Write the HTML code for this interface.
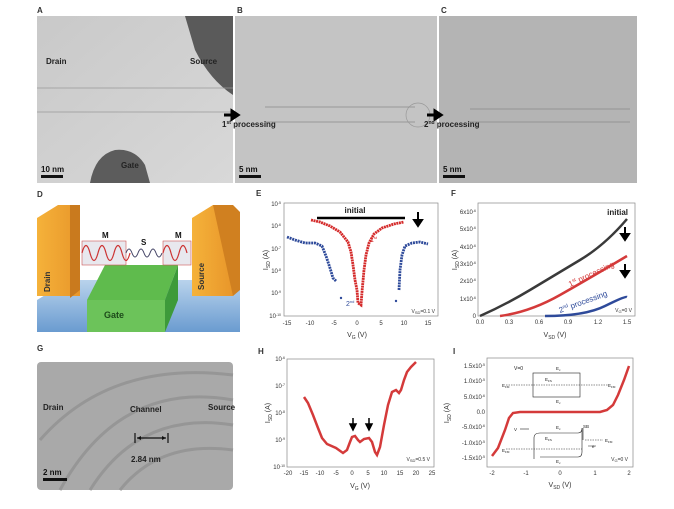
<!DOCTYPE html>
<html><head><meta charset="utf-8"><style>
html,body{margin:0;padding:0;background:#fff;width:674px;height:509px;overflow:hidden}
svg{display:block;font-family:"Liberation Sans",sans-serif}
.t{font-size:6px;fill:#333}
.b{font-weight:bold}
</style></head><body>
<svg width="674" height="509" viewBox="0 0 674 509">
<defs>
<linearGradient id="ga" x1="0" y1="0" x2="1" y2="1"><stop offset="0" stop-color="#c9c9c9"/><stop offset="1" stop-color="#d8d8d8"/></linearGradient>
<linearGradient id="gor" x1="0" y1="0" x2="1" y2="0"><stop offset="0" stop-color="#f5b23a"/><stop offset="1" stop-color="#e8962a"/></linearGradient>
<linearGradient id="gbl" x1="0" y1="0" x2="0" y2="1"><stop offset="0" stop-color="#b9d3ec"/><stop offset="1" stop-color="#6a9bd0"/></linearGradient>
</defs>
<text x="37" y="13" font-size="8" class="b" fill="#333">A</text>
<rect x="37" y="16" width="196" height="167" fill="url(#ga)"/>
<path d="M185 16 L233 16 L233 95 Q210 80 195 50 Z" fill="#5a5a5a"/>
<path d="M90 183 Q95 155 115 150 Q135 148 145 165 L150 183 Z" fill="#5c5c5c"/>
<line x1="37" y1="88" x2="233" y2="88" stroke="#999" stroke-width="0.8"/>
<line x1="37" y1="112" x2="233" y2="112" stroke="#999" stroke-width="0.8"/>
<text x="46" y="64" font-size="8" class="b" fill="#222">Drain</text>
<text x="190" y="64" font-size="8" class="b" fill="#222">Source</text>
<text x="121" y="168" font-size="8" class="b" fill="#222">Gate</text>
<text x="41" y="172" font-size="8" class="b" fill="#111">10 nm</text>
<rect x="41" y="175" width="22" height="3" fill="#111"/>
<text x="237" y="13" font-size="8" class="b" fill="#333">B</text>
<rect x="235" y="16" width="202" height="167" fill="#c4c4c4"/>
<line x1="265" y1="107" x2="415" y2="107" stroke="#888" stroke-width="0.8"/>
<line x1="265" y1="122" x2="415" y2="122" stroke="#888" stroke-width="0.8"/>
<circle cx="418" cy="115" r="12" fill="none" stroke="#999" stroke-width="0.7"/>
<path d="M224 115 H236 M232 111 L238 115 L232 119 Z" stroke="#000" stroke-width="3" fill="#000"/>
<text x="222" y="127" font-size="8" class="b" fill="#222">1<tspan font-size="5" dy="-3">st</tspan><tspan dy="3"> processing</tspan></text>
<text x="239" y="172" font-size="8" class="b" fill="#111">5 nm</text>
<rect x="239" y="175" width="22" height="3" fill="#111"/>
<text x="441" y="13" font-size="8" class="b" fill="#333">C</text>
<rect x="439" y="16" width="198" height="167" fill="#b4b4b4"/>
<line x1="470" y1="109" x2="630" y2="109" stroke="#888" stroke-width="0.7"/>
<line x1="470" y1="122" x2="630" y2="122" stroke="#888" stroke-width="0.7"/>
<path d="M427 115 H439 M435 111 L441 115 L435 119 Z" stroke="#000" stroke-width="3" fill="#000"/>
<text x="424" y="127" font-size="8" class="b" fill="#222">2<tspan font-size="5" dy="-3">nd</tspan><tspan dy="3"> processing</tspan></text>
<text x="443" y="172" font-size="8" class="b" fill="#111">5 nm</text>
<rect x="443" y="175" width="22" height="3" fill="#111"/>

<text x="37" y="197" font-size="8" class="b" fill="#333">D</text>
<polygon points="37,300 70,280 240,280 240,332 37,332" fill="url(#gbl)"/>
<polygon points="37,218 58,205 80,205 80,296 37,296" fill="url(#gor)"/>
<polygon points="70,205 80,205 80,290 70,298" fill="#c97a1e"/>
<polygon points="192,218 213,205 233,205 233,296 192,296" fill="url(#gor)"/>
<polygon points="213,205 233,205 240,212 240,290 233,296" fill="#d08020"/>
<polygon points="87,300 105,265 178,265 165,300" fill="#5fbb4d"/>
<rect x="87" y="300" width="78" height="32" fill="#6cc35a"/>
<polygon points="165,300 178,265 178,300 165,332" fill="#3d9a3a"/>
<rect x="82" y="241" width="44" height="24" fill="#e8e8ee" stroke="#c55" stroke-width="0.6"/>
<rect x="163" y="241" width="28" height="24" fill="#e8e8ee" stroke="#c55" stroke-width="0.6"/>
<path d="M82 253 Q86 238 90 253 T98 253 T106 253 T114 253 T122 253 T130 253 M163 253 Q167 238 171 253 T179 253 T187 253" stroke="#c33" fill="none" stroke-width="1.2"/>
<path d="M126 253 q3 -8 6 0 t6 0 t6 0 t6 0 t6 0 t6 0" stroke="#446" fill="none" stroke-width="1"/>
<text x="50" y="292" font-size="8" class="b" fill="#333" transform="rotate(-90 50 292)">Drain</text>
<text x="204" y="290" font-size="8" class="b" fill="#333" transform="rotate(-90 204 290)">Source</text>
<text x="102" y="238" font-size="8" class="b" fill="#111">M</text>
<text x="141" y="245" font-size="8" class="b" fill="#111">S</text>
<text x="175" y="238" font-size="8" class="b" fill="#111">M</text>
<text x="104" y="318" font-size="9" class="b" fill="#1d4a1a">Gate</text>

<text x="37" y="351" font-size="8" class="b" fill="#333">G</text>
<rect x="37" y="362" width="196" height="128" rx="4" fill="#a9a9a9"/>
<g fill="none" stroke="#969696" stroke-width="3">
<path d="M60 490 Q120 380 233 400"/><path d="M90 490 Q140 410 233 425"/><path d="M120 490 Q160 440 233 450"/><path d="M40 440 Q110 360 233 375"/>
</g>
<text x="43" y="410" font-size="8" class="b" fill="#222">Drain</text>
<text x="130" y="412" font-size="8" class="b" fill="#222">Channel</text>
<text x="208" y="410" font-size="8" class="b" fill="#222">Source</text>
<path d="M135 433 V443 M168 433 V443 M137 438 H166" stroke="#111" stroke-width="1.2"/>
<path d="M137 438 l4 -2 v4 z M166 438 l-4 -2 v4 z" fill="#111"/>
<text x="131" y="462" font-size="8" class="b" fill="#222">2.84 nm</text>
<text x="43" y="475" font-size="8" class="b" fill="#111">2 nm</text>
<rect x="43" y="478" width="24" height="3" fill="#111"/>

<text x="256" y="196" font-size="8" class="b" fill="#333">E</text>
<rect x="284" y="203" width="154" height="113" fill="none" stroke="#888" stroke-width="0.7"/>
<g class="t" text-anchor="end" font-size="5">
<text x="281" y="206">10<tspan dy="-2" font-size="3.5">-5</tspan></text>
<text x="281" y="228">10<tspan dy="-2" font-size="3.5">-6</tspan></text>
<text x="281" y="251">10<tspan dy="-2" font-size="3.5">-7</tspan></text>
<text x="281" y="273">10<tspan dy="-2" font-size="3.5">-8</tspan></text>
<text x="281" y="295">10<tspan dy="-2" font-size="3.5">-9</tspan></text>
<text x="281" y="318">10<tspan dy="-2" font-size="3.5">-10</tspan></text>
</g>
<g class="t" text-anchor="middle" font-size="6">
<text x="287" y="325">-15</text><text x="310" y="325">-10</text><text x="334" y="325">-5</text><text x="357" y="325">0</text><text x="381" y="325">5</text><text x="404" y="325">10</text><text x="428" y="325">15</text>
</g>
<text x="357" y="337" font-size="7" text-anchor="middle" fill="#333">V<tspan font-size="5" dy="2">G</tspan><tspan dy="-2"> (V)</tspan></text>
<text x="268" y="260" font-size="7" text-anchor="middle" fill="#333" transform="rotate(-90 268 260)">I<tspan font-size="5" dy="2">SD</tspan><tspan dy="-2"> (A)</tspan></text>
<line x1="317" y1="218" x2="405" y2="218" stroke="#000" stroke-width="2.5"/>
<text x="355" y="213" font-size="8" class="b" fill="#222" text-anchor="middle">initial</text>
<path d="M418 212 V222 M414 220 L418 226 L422 220 Z" stroke="#000" stroke-width="2" fill="#000"/>
<polyline points="311,220 320,222 330,226 340,232 348,242 351,252 353,265 355,280 357,290 358,303 361,305 362,292 364,270 366,255 369,243 374,234 382,228 394,224 404,222" fill="none" stroke="#d42a2a" stroke-width="2.8" stroke-dasharray="2 0.6"/>
<text x="370" y="242" font-size="7" fill="#d42a2a">1<tspan font-size="4" dy="-3">st</tspan></text>
<polyline points="287,237 295,240 305,243 315,243 322,246 326,256 330,268 333,278 336,281" fill="none" stroke="#2e4a9a" stroke-width="2.8" stroke-dasharray="2 0.8"/>
<circle cx="341" cy="298" r="1.2" fill="#2e4a9a"/>
<polyline points="399,290 400,270 402,255 405,246 412,243 420,242 428,244" fill="none" stroke="#2e4a9a" stroke-width="2.8" stroke-dasharray="2 0.8"/>
<circle cx="396" cy="301" r="1.2" fill="#2e4a9a"/>
<text x="346" y="306" font-size="7" fill="#2e4a9a">2<tspan font-size="4" dy="-3">nd</tspan></text>
<text x="435" y="313" font-size="5" text-anchor="end" fill="#333">V<tspan dy="1" font-size="4">SD</tspan><tspan dy="-1">=0.1 V</tspan></text>

<text x="451" y="196" font-size="8" class="b" fill="#333">F</text>
<rect x="478" y="203" width="157" height="113" fill="none" stroke="#888" stroke-width="0.7"/>
<g class="t" text-anchor="end" font-size="5">
<text x="476" y="318">0</text>
<text x="476" y="301">1x10<tspan dy="-2" font-size="3.5">-6</tspan></text>
<text x="476" y="283">2x10<tspan dy="-2" font-size="3.5">-6</tspan></text>
<text x="476" y="266">3x10<tspan dy="-2" font-size="3.5">-6</tspan></text>
<text x="476" y="249">4x10<tspan dy="-2" font-size="3.5">-6</tspan></text>
<text x="476" y="231">5x10<tspan dy="-2" font-size="3.5">-6</tspan></text>
<text x="476" y="214">6x10<tspan dy="-2" font-size="3.5">-6</tspan></text>
</g>
<g class="t" text-anchor="middle" font-size="5">
<text x="480" y="324">0.0</text><text x="509" y="324">0.3</text><text x="539" y="324">0.6</text><text x="568" y="324">0.9</text><text x="598" y="324">1.2</text><text x="627" y="324">1.5</text>
</g>
<text x="555" y="337" font-size="7" text-anchor="middle" fill="#333">V<tspan font-size="5" dy="2">SD</tspan><tspan dy="-2"> (V)</tspan></text>
<text x="457" y="260" font-size="7" text-anchor="middle" fill="#333" transform="rotate(-90 457 260)">I<tspan font-size="5" dy="2">SD</tspan><tspan dy="-2"> (A)</tspan></text>
<path d="M480 316 Q505 305 530 290 T580 260 T627 219" fill="none" stroke="#3a3a3a" stroke-width="2.5"/>
<path d="M500 316 Q530 312 560 295 T627 256" fill="none" stroke="#d43a3a" stroke-width="2.5"/>
<path d="M545 316 Q585 316 605 306 T627 297" fill="none" stroke="#2e4a9a" stroke-width="2.5"/>
<text x="628" y="215" font-size="8" class="b" fill="#222" text-anchor="end">initial</text>
<path d="M625 227 V237 M621 234 L625 240 L629 234 Z" stroke="#000" stroke-width="2" fill="#000"/>
<path d="M625 264 V274 M621 271 L625 277 L629 271 Z" stroke="#000" stroke-width="2" fill="#000"/>
<text x="570" y="287" font-size="8" fill="#d43a3a" transform="rotate(-25 570 287)">1<tspan font-size="5" dy="-3">st</tspan><tspan dy="3"> processing</tspan></text>
<text x="560" y="313" font-size="8" fill="#2e4a9a" transform="rotate(-20 560 313)">2<tspan font-size="5" dy="-3">nd</tspan><tspan dy="3"> processing</tspan></text>
<text x="632" y="312" font-size="5" text-anchor="end" fill="#333">V<tspan dy="1" font-size="4">G</tspan><tspan dy="-1">=0 V</tspan></text>

<text x="258" y="354" font-size="8" class="b" fill="#333">H</text>
<rect x="287" y="359" width="147" height="108" fill="none" stroke="#888" stroke-width="0.7"/>
<g class="t" text-anchor="end" font-size="5">
<text x="285" y="361">10<tspan dy="-2" font-size="3.5">-6</tspan></text>
<text x="285" y="388">10<tspan dy="-2" font-size="3.5">-7</tspan></text>
<text x="285" y="415">10<tspan dy="-2" font-size="3.5">-8</tspan></text>
<text x="285" y="442">10<tspan dy="-2" font-size="3.5">-9</tspan></text>
<text x="285" y="469">10<tspan dy="-2" font-size="3.5">-10</tspan></text>
</g>
<g class="t" text-anchor="middle" font-size="5">
<text x="288" y="475">-20</text><text x="304" y="475">-15</text><text x="320" y="475">-10</text><text x="336" y="475">-5</text><text x="352" y="475">0</text><text x="368" y="475">5</text><text x="384" y="475">10</text><text x="400" y="475">15</text><text x="416" y="475">20</text><text x="432" y="475">25</text>
</g>
<text x="360" y="488" font-size="7" text-anchor="middle" fill="#333">V<tspan font-size="5" dy="2">G</tspan><tspan dy="-2"> (V)</tspan></text>
<text x="270" y="413" font-size="7" text-anchor="middle" fill="#333" transform="rotate(-90 270 413)">I<tspan font-size="5" dy="2">SD</tspan><tspan dy="-2"> (A)</tspan></text>
<polyline points="304,397 308,403 313,415 318,428 322,438 327,444 336,448 343,453 347,450 350,442 352,437 355,436 358,440 360,442 364,439 369,438 372,442 375,452 377,455 380,447 384,425 388,405 392,392 396,390 399,393 401,390 404,380 407,372 411,367 416,362" fill="none" stroke="#d43a3a" stroke-width="2.5"/>
<path d="M353 418 V427 M350 424 L353 430 L356 424 Z M369 418 V427 M366 424 L369 430 L372 424 Z" stroke="#000" stroke-width="1.5" fill="#000"/>
<text x="430" y="461" font-size="5" text-anchor="end" fill="#333">V<tspan dy="1" font-size="4">SD</tspan><tspan dy="-1">=0.5 V</tspan></text>

<text x="453" y="354" font-size="8" class="b" fill="#333">I</text>
<rect x="487" y="358" width="146" height="109" fill="none" stroke="#888" stroke-width="0.7"/>
<g class="t" text-anchor="end" font-size="5">
<text x="485" y="368">1.5x10<tspan dy="-2" font-size="3.5">-5</tspan></text>
<text x="485" y="383">1.0x10<tspan dy="-2" font-size="3.5">-5</tspan></text>
<text x="485" y="399">5.0x10<tspan dy="-2" font-size="3.5">-6</tspan></text>
<text x="485" y="414">0.0</text>
<text x="485" y="429">-5.0x10<tspan dy="-2" font-size="3.5">-6</tspan></text>
<text x="485" y="445">-1.0x10<tspan dy="-2" font-size="3.5">-5</tspan></text>
<text x="485" y="460">-1.5x10<tspan dy="-2" font-size="3.5">-5</tspan></text>
</g>
<g class="t" text-anchor="middle" font-size="5">
<text x="492" y="475">-2</text><text x="526" y="475">-1</text><text x="560" y="475">0</text><text x="595" y="475">1</text><text x="629" y="475">2</text>
</g>
<text x="560" y="487" font-size="7" text-anchor="middle" fill="#333">V<tspan font-size="5" dy="2">SD</tspan><tspan dy="-2"> (V)</tspan></text>
<text x="449" y="413" font-size="7" text-anchor="middle" fill="#333" transform="rotate(-90 449 413)">I<tspan font-size="5" dy="2">SD</tspan><tspan dy="-2"> (A)</tspan></text>
<polyline points="492,456 498,448 505,430 509,418 513,413 520,412 600,412 607,410 613,405 618,395 624,380 629,366" fill="none" stroke="#d43a3a" stroke-width="2.5"/>
<text x="514" y="370" font-size="5" fill="#222">V=0</text>
<rect x="533" y="373" width="47" height="24" fill="none" stroke="#222" stroke-width="0.6"/>
<line x1="506" y1="385" x2="608" y2="385" stroke="#222" stroke-width="0.6" stroke-dasharray="1.5 1"/>
<g font-size="4.5" fill="#222">
<text x="556" y="370">E<tspan dy="1" font-size="3">c</tspan></text>
<text x="545" y="381">E<tspan dy="1" font-size="3">FS</tspan></text>
<text x="556" y="403">E<tspan dy="1" font-size="3">v</tspan></text>
<text x="502" y="387">E<tspan dy="1" font-size="3">FM</tspan></text>
<text x="608" y="387">E<tspan dy="1" font-size="3">FM</tspan></text>
<text x="514" y="431">V</text>
<text x="556" y="429">E<tspan dy="1" font-size="3">c</tspan></text>
<text x="545" y="440">E<tspan dy="1" font-size="3">FS</tspan></text>
<text x="556" y="463">E<tspan dy="1" font-size="3">v</tspan></text>
<text x="502" y="452">E<tspan dy="1" font-size="3">FM</tspan></text>
<text x="605" y="442">E<tspan dy="1" font-size="3">FM</tspan></text>
<text x="583" y="428">SB</text>
<text x="592" y="448">e</text>
</g>
<path d="M520 429 H529" stroke="#222" stroke-width="0.6"/>
<path d="M534 459 V438 Q534 433 540 433 H578 Q582 433 582 428 V452 Q582 457 578 457 H540" fill="none" stroke="#222" stroke-width="0.6"/>
<line x1="506" y1="449" x2="582" y2="449" stroke="#222" stroke-width="0.6" stroke-dasharray="1.5 1"/>
<line x1="585" y1="440" x2="603" y2="440" stroke="#222" stroke-width="0.6" stroke-dasharray="1.5 1"/>
<path d="M583 440 V428 M588 446 H596" stroke="#222" stroke-width="0.6"/>
<text x="628" y="461" font-size="5" text-anchor="end" fill="#333">V<tspan dy="1" font-size="4">G</tspan><tspan dy="-1">=0 V</tspan></text>
</svg>
</body></html>
